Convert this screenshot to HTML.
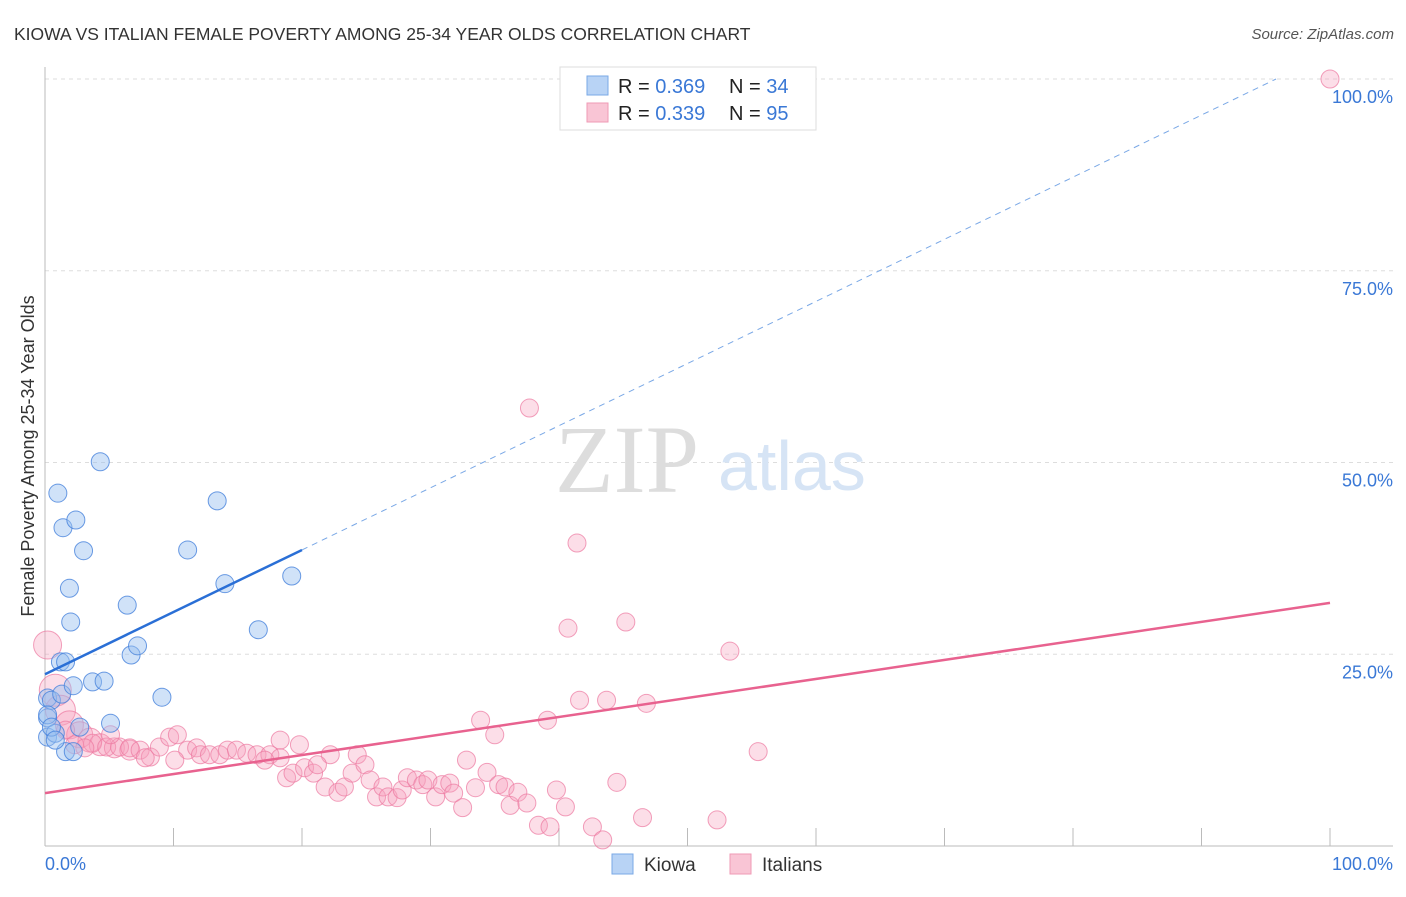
<!DOCTYPE html>
<html><head><meta charset="utf-8"><style>
body{margin:0;background:#fff;font-family:"Liberation Sans",sans-serif;}
svg text{font-family:"Liberation Sans",sans-serif;}
</style></head><body>
<svg id="chart" width="1406" height="892" xmlns="http://www.w3.org/2000/svg">
<text x="14" y="40" font-size="17.5" fill="#333">KIOWA VS ITALIAN FEMALE POVERTY AMONG 25-34 YEAR OLDS CORRELATION CHART</text>
<text x="1394" y="39" font-size="15" fill="#555" font-style="italic" text-anchor="end">Source: ZipAtlas.com</text>
<g id="grid"></g>
<text x="555" y="492" font-size="96" fill="#ddd" style="font-family:'Liberation Serif',serif">ZIP</text>
<text x="718" y="490" font-size="70" fill="#d6e4f5">atlas</text>
<g id="axes"></g>
<g id="pts"></g>
<g id="lines"></g>
<text transform="translate(34,456) rotate(-90)" font-size="18" fill="#333" text-anchor="middle">Female Poverty Among 25-34 Year Olds</text>
<g>
<rect x="560" y="67" width="256" height="63" fill="#fff" stroke="#ddd"/>
<rect x="587" y="76" width="21" height="19" fill="#b8d3f5" stroke="#7aa8e6"/>
<rect x="587" y="103" width="21" height="19" fill="#f9c5d5" stroke="#ef9ab5"/>
<text x="618" y="93" font-size="20" fill="#222">R = <tspan fill="#3a78d6">0.369</tspan></text>
<text x="729" y="93" font-size="20" fill="#222">N = <tspan fill="#3a78d6">34</tspan></text>
<text x="618" y="120" font-size="20" fill="#222">R = <tspan fill="#3a78d6">0.339</tspan></text>
<text x="729" y="120" font-size="20" fill="#222">N = <tspan fill="#3a78d6">95</tspan></text>
</g>
<g>
<rect x="612" y="854" width="21" height="20" fill="#b8d3f5" stroke="#7aa8e6"/>
<text x="644" y="871" font-size="19" fill="#333">Kiowa</text>
<rect x="730" y="854" width="21" height="20" fill="#f9c5d5" stroke="#ef9ab5"/>
<text x="762" y="871" font-size="19" fill="#333">Italians</text>
</g>
</svg>
<script>
const kiowaX=[0.2,0.2,0.2,0.5,0.8,1.0,1.2,1.3,1.4,1.6,1.6,1.9,2.0,2.2,2.2,2.4,3.0,3.7,4.3,4.6,5.1,6.4,6.7,7.2,9.1,11.1,13.4,14.0,16.6,19.2,0.2,0.5,0.8,2.7];
const kiowaY=[19.3,16.7,14.2,19.0,14.7,46.0,24.0,19.8,41.5,12.3,24.0,33.6,29.2,20.9,12.3,42.5,38.5,21.4,50.1,21.5,16.0,31.4,24.9,26.1,19.4,38.6,45.0,34.2,28.2,35.2,17.1,15.5,13.8,15.5];
const italX=[0.2,0.8,1.2,1.9,2.7,3.5,4.3,5.4,6.6,3.7,4.8,5.8,6.6,7.4,8.2,8.9,9.7,10.3,11.1,11.8,12.1,12.8,13.6,14.2,14.9,15.7,16.5,17.5,18.3,19.8,22.2,24.3,18.3,18.8,19.3,20.2,20.9,21.2,21.8,22.8,23.3,23.9,24.9,25.3,25.8,26.3,26.7,27.4,27.8,28.2,28.9,29.4,29.8,30.4,30.9,31.5,31.8,32.5,32.8,33.5,33.9,34.4,35.0,35.3,35.8,36.2,36.8,37.5,38.4,39.1,39.3,39.8,40.5,41.6,42.6,43.4,43.7,44.5,46.5,46.8,52.3,55.5,37.7,41.4,40.7,45.2,53.3,100,1.6,2.3,3.1,5.1,7.8,10.1,17.1];
const italY=[26.2,20.3,17.7,15.8,14.5,13.8,13.2,12.8,12.5,13.4,12.9,12.9,12.8,12.5,11.6,12.9,14.2,14.5,12.5,12.8,11.9,11.9,11.9,12.5,12.5,12.1,11.9,11.9,13.8,13.2,11.9,11.9,11.5,8.9,9.5,10.2,9.5,10.6,7.7,7.0,7.7,9.5,10.6,8.6,6.4,7.7,6.4,6.3,7.3,8.9,8.6,8.0,8.6,6.4,8.0,8.2,6.9,5.0,11.2,7.6,16.4,9.6,14.5,8.0,7.7,5.3,7.0,5.6,2.7,16.4,2.5,7.3,5.1,19.0,2.5,0.8,19.0,8.3,3.7,18.6,3.4,12.3,57.1,39.5,28.4,29.2,25.4,100,15.1,13.2,12.8,14.5,11.5,11.2,11.2];
const italR=[14,16,15,14,13,12,11,10,10];
const kiowaLine=[22.4,0.81];
const italLine=[6.9,0.248];
const xTicks=[0,10,20,30,40,50,60,70,80,90,100];
const yTicks=[25,50,75,100];
const yTickLabels=["25.0%","50.0%","75.0%","100.0%"];

const X0=45,X1=1330,Y0=846,Y100=79;
const sx=v=>X0+(X1-X0)*v/100;
const sy=v=>Y0-(Y0-Y100)*v/100;
const NS="http://www.w3.org/2000/svg";
function mk(tag,attrs,parent){const e=document.createElementNS(NS,tag);for(const k in attrs)e.setAttribute(k,attrs[k]);parent.appendChild(e);return e;}
const grid=document.getElementById('grid'),axes=document.getElementById('axes'),pts=document.getElementById('pts'),lines=document.getElementById('lines');
yTicks.forEach((t,i)=>{
 const l=mk('line',{x1:X0,x2:1393,y1:sy(t),y2:sy(t),stroke:'#ddd','stroke-dasharray':'4,4'},grid);
 
 
 const tx=mk('text',{x:1393,y:sy(t)+24,'font-size':18,fill:'#3a78d6','text-anchor':'end'},axes);
 tx.textContent=yTickLabels[i];
 
 
});
const ax=mk('line',{x1:X0,x2:1393,y1:Y0,y2:Y0,stroke:'#bbb'},axes);


const ay=mk('line',{x1:X0,x2:X0,y1:67,y2:Y0,stroke:'#bbb'},axes);


xTicks.forEach(t=>{
 const l=mk('line',{x1:sx(t),x2:sx(t),y1:t===0?Y0:828,y2:Y0,stroke:'#bbb'},axes);
 
 
});
[[0,"0.0%",'start',45],[100,"100.0%",'end',1393]].forEach(a=>{
 const tx=mk('text',{x:a[3],y:870,'font-size':18,fill:'#3a78d6','text-anchor':a[2]},axes);
 tx.textContent=a[1];
 
 
});
italX.forEach((x,i)=>{
 const c=mk('circle',{cx:sx(x),cy:sy(italY[i]),r:italR[i]||9,fill:'rgba(246,160,190,0.35)',stroke:'rgba(236,120,160,0.7)','stroke-width':1},pts);
 
 
});
kiowaX.forEach((x,i)=>{
 const c=mk('circle',{cx:sx(x),cy:sy(kiowaY[i]),r:9,fill:'rgba(150,190,240,0.45)',stroke:'rgba(70,130,220,0.8)','stroke-width':1},pts);
 
 
});
const kf=x=>kiowaLine[0]+kiowaLine[1]*x;
const k1=mk('line',{x1:sx(0),y1:sy(kf(0)),x2:sx(20),y2:sy(kf(20)),stroke:'#2a6fd6','stroke-width':2.5},lines);


const xe=(100-kiowaLine[0])/kiowaLine[1];
const k2=mk('line',{x1:sx(20),y1:sy(kf(20)),x2:sx(xe),y2:sy(100),stroke:'#7aa8e6','stroke-width':1,'stroke-dasharray':'6,5'},lines);


const pf=x=>italLine[0]+italLine[1]*x;
const p1=mk('line',{x1:sx(0),y1:sy(pf(0)),x2:sx(100),y2:sy(pf(100)),stroke:'#e8628f','stroke-width':2.5},lines);


</script>
</body></html>
